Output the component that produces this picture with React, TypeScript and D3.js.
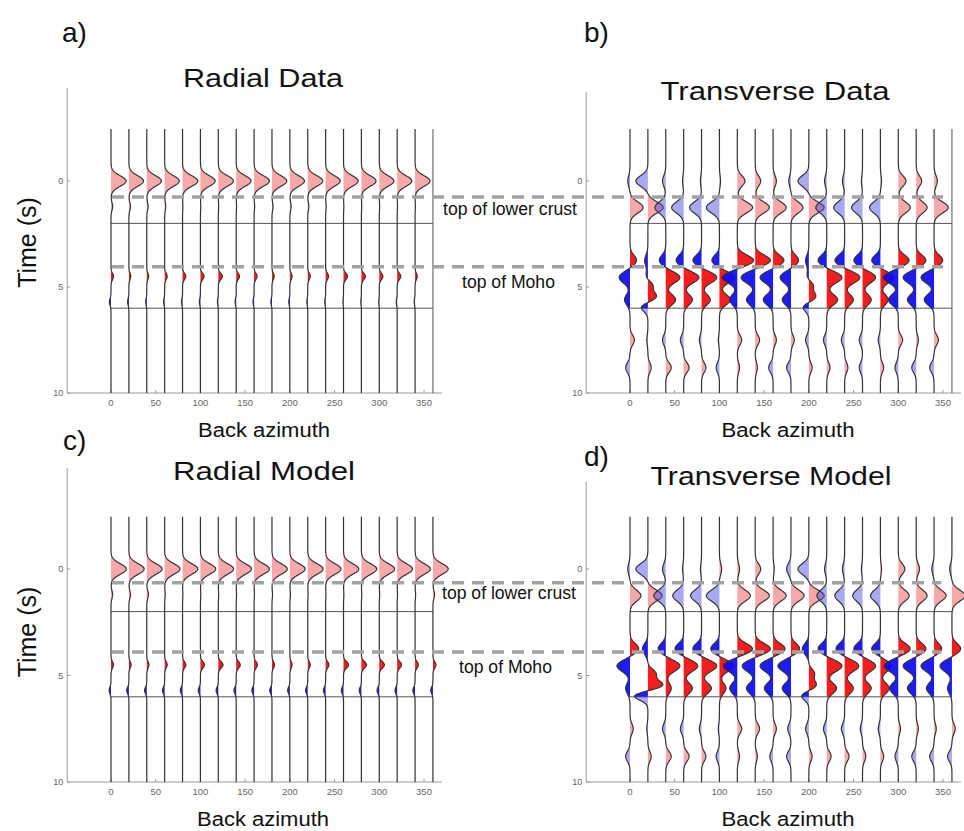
import React from 'react';
import * as d3 from 'd3';

// ---------------- data ----------------
const azimuthsData = [0, 20, 40, 60, 80, 100, 120, 140, 160, 180, 200, 220, 240, 260, 280, 300, 320, 340];
const azimuthsModel = [0, 20, 40, 60, 80, 100, 120, 140, 160, 180, 200, 220, 240, 260, 280, 300, 320, 340, 360];
const xTicks = [0, 50, 100, 150, 200, 250, 300, 350];
const yTicks = [0, 5, 10];

// pulse arrival times (s) and pulse half-widths (s)
const radialTimes = [0, 1.2, 4.5, 5.7];
const radialWidths = [0.25, 0.18, 0.15, 0.15];
const transverseTimes = [0, 1.25, 3.75, 4.55, 4.9, 5.45, 5.6, 5.95, 7.5, 8.8];
const transverseWidths = [0.25, 0.26, 0.25, 0.26, 0.2, 0.22, 0.25, 0.2, 0.23, 0.23];

// Radial data amplitudes (rows = pulse times, cols = traces)
const radialDataAmp = [
  [13.8, 13.4, 13.4, 13.4, 14, 13.5, 13.8, 13.6, 14, 13.6, 13.4, 13.8, 13.4, 13.4, 13.4, 13.4, 13.4, 13.7],
  [1.5, 1.5, 1.2, 1, 0.3, 0.3, 0.3, 0.3, 0.5, 1, 1.2, 1, 0.5, 0.3, 0.3, 0.3, 0.3, 0.3],
  [2.3, 1.7, 1.7, 2.3, 3, 3.3, 3.7, 3, 2.7, 2, 2, 2.3, 2.7, 3.7, 3.7, 3.3, 3.3, 2],
  [-1.5, -1.2, -1, -1, -1, -1, -0.8, -1, -1, -1, -1, -0.8, -0.8, -0.5, -0.5, -0.5, -0.8, -0.8],
];

// Radial model amplitudes
const radialModelAmp = [
  [14, 14, 14, 14, 14, 14, 14, 14, 14, 14, 14, 14, 14, 14, 14, 14, 14, 14, 14],
  [1.5, 1.5, 1.5, 0.5, 0.3, 0.3, 0.3, 0.3, 0.3, 0.5, 0.5, 0.3, 0.3, 0.3, 0.3, 0.3, 0.3, 0.5, 1.5],
  [2.3, 2, 2, 2.3, 3, 3.7, 4.3, 3.7, 3, 2.3, 2, 2.3, 3, 4.7, 4.7, 4.7, 4, 3, 2.7],
  [-1.7, -2, -2, -2, -2, -2, -2, -2, -2, -2, -2, -2, -2, -2, -2, -2, -2, -2, -2],
];

// Transverse data amplitudes
const transverseDataAmp = [
  [-2, -11, -3, -1, -1, 1, 7, 5, 3, -2, -10, -2, -2, -1, 1, 7, 5, 3],
  [12, 14, -10, -11, -11, -12, 14, 13, 12, 11, 14, -10, -10, -10, -10, 11, 10, 13],
  [6, -3, -6, -7, -8, -7, 15, 14, 10, 7, -3, -8, -9, -8, -8, 10, 9, 8],
  [-10, -2, 13, 14, 14, 14, -14, -13, -12, -10, -2, 14, 14, 12, 12, -14, -12, -12],
  [0, 5, 0, 0, 0, 0, 0, 0, 0, 0, 4.5, 0, 0, 0, 0, 0, 0, 0],
  [0, 8, 0, 0, 0, 0, 0, 0, 0, 0, 6.5, 0, 0, 0, 0, 0, 0, 0],
  [-5, 0, 9, 8, 8, 10, -7, -8, -9, -8, 0, 10, 8, 8, 7, -9, -8, -9],
  [0, -6.5, 0, 0, 0, 0, 0, 0, 0, 0, -5.5, 0, 0, 0, 0, 0, 0, 0],
  [4, -1, -3, -3, -2, -1, 4, 4, 3, 3, -3, -3, -3, -3, -2, 4, 2, 4],
  [-4, 3, 5, 5, 4, -3, 2, 2, -4, -4, 3, 3, 3, -3, 3, -3, -4, -4],
];

// Transverse model amplitudes
const transverseModelAmp = [
  [-2, -11, -3, -1, -1, 2, 2, 5, 1, -4, -10, -2, -2, -1, 1, 6, 3, -2, -2],
  [10, 13, -11, -10, -10, -12, 12, 13, 12, 12, 14, -9, -9, -9, -9, 10, 10, 11, 12],
  [8, -5, -7, -8, -8, -8, 14, 14, 11, 8, -6, -8, -8, -8, -8, 11, 9, 7, 8],
  [-12, 0, 13, 13, 14, 13, -13, -12, -12, -12, 0, 14, 13, 12, 10, -13, -12, -12, -11],
  [0, 7, 0, 0, 0, 0, 0, 0, 0, 0, 5, 0, 0, 0, 0, 0, 0, 0, 0],
  [0, 14, 0, 0, 0, 0, 0, 0, 0, 0, 7, 0, 0, 0, 0, 0, 0, 0, 0],
  [-4, 0, 5, 8, 9, 6, -7, -8, -8, -8, 0, 9, 8, 8, 8, -8, -8, -7, -4],
  [0, -13, 0, 0, 0, 0, 0, 0, 0, 0, -7, 0, 0, 0, 0, 0, 0, 0, 0],
  [3, -1, -3, -3, -2, -1, 4, 4, 3, -3, -3, -3, -3, -2, -2, 2, 2, 2, 3],
  [-4, 3, 5, 5, 4, -3, 2, 2, -3, -4, 3, 4, 4, 3, 3, -3, -4, -4, -4],
];

const layerTimes = [2, 6];
const interfaceTop = { crust: 0.75, moho: 4.05 };
const interfaceBottom = { crust: 0.65, moho: 3.9 };

// ---------------- styling ----------------
const FONT = "'Liberation Sans', Arial, Helvetica, sans-serif";
const GAIN = 1.22; // azimuth-degrees per amplitude unit
const T_START = -2.45;
const T_END = 10;

type Panel = {
  az: number[];
  times: number[];
  widths: number[];
  amps: number[][];
  x0: number; // pixel of azimuth 0
  yScale: d3.ScaleLinear<number, number>;
  axisTop: number;
  endLine: boolean;
};

const xScaleFor = (x0: number) =>
  d3.scaleLinear().domain([0, 350]).range([x0, x0 + 313]);

function wave(t: number, p: Panel, j: number) {
  let s = 0;
  for (let i = 0; i < p.times.length; i++) {
    const a = p.amps[i][j];
    if (!a) continue;
    const d = t - p.times[i];
    const sg = p.widths[i];
    s += a * Math.exp(-(d * d) / (2 * sg * sg));
  }
  return s;
}

function samples(t0: number, t1: number, fn: (t: number) => number) {
  const n = Math.max(2, Math.round((t1 - t0) / 0.02));
  const out: [number, number][] = [];
  for (let k = 0; k <= n; k++) {
    const t = t0 + ((t1 - t0) * k) / n;
    out.push([t, fn(t)]);
  }
  return out;
}

const COLORS = {
  redLight: 'rgba(240,70,70,0.47)',
  blueLight: 'rgba(70,70,230,0.47)',
  red: 'rgba(245,10,10,0.92)',
  blue: 'rgba(10,10,240,0.92)',
};

function PanelTraces({ p }: { p: Panel }) {
  const x = xScaleFor(p.x0);
  const y = p.yScale;
  const segs: [number, number, boolean][] = [
    [T_START, layerTimes[0], false],
    [layerTimes[0], layerTimes[1], true],
    [layerTimes[1], T_END, false],
  ];
  const line = d3.line<[number, number]>();
  return (
    <g>
      {p.az.map((az, j) => {
        const fn = (t: number) => wave(t, p, j);
        const all = samples(T_START, T_END, fn);
        const base = x(az);
        const fills: React.ReactNode[] = [];
        segs.forEach(([a, b, strong], si) => {
          const s = samples(a, b, fn);
          const pos = d3
            .area<[number, number]>()
            .y((d) => y(d[0]))
            .x0(base)
            .x1((d) => x(az + GAIN * Math.max(0, d[1])));
          const neg = d3
            .area<[number, number]>()
            .y((d) => y(d[0]))
            .x0(base)
            .x1((d) => x(az + GAIN * Math.min(0, d[1])));
          fills.push(
            <path key={'p' + si} d={pos(s) || ''} fill={strong ? COLORS.red : COLORS.redLight} />,
            <path key={'n' + si} d={neg(s) || ''} fill={strong ? COLORS.blue : COLORS.blueLight} />
          );
        });
        const d = line(all.map(([t, v]) => [x(az + GAIN * v), y(t)] as [number, number]));
        return (
          <g key={az}>
            {fills}
            <path d={d || ''} fill="none" stroke="#333" strokeWidth={1.2} />
          </g>
        );
      })}
      {p.endLine && (
        <line x1={x(360)} x2={x(360)} y1={y(T_START)} y2={y(T_END)} stroke="#555" strokeWidth={1} />
      )}
    </g>
  );
}

function PanelFrame({ p }: { p: Panel }) {
  const x = xScaleFor(p.x0);
  const y = p.yScale;
  const axX = x(-49);
  const axY = y(10);
  return (
    <g fontFamily={FONT}>
      <line x1={axX} x2={axX} y1={p.axisTop} y2={axY} stroke="#9a9a9a" strokeWidth={1} />
      <line x1={axX} x2={x(370)} y1={axY} y2={axY} stroke="#9a9a9a" strokeWidth={1} />
      {yTicks.map((t) => (
        <g key={t}>
          <line x1={axX} x2={axX + 3} y1={y(t)} y2={y(t)} stroke="#9a9a9a" />
          <text x={axX - 4} y={y(t)} dy="0.35em" textAnchor="end" fontSize={9} fill="#666">
            {t}
          </text>
        </g>
      ))}
      {xTicks.map((t) => (
        <g key={t}>
          <line x1={x(t)} x2={x(t)} y1={axY} y2={axY - 3} stroke="#9a9a9a" />
          <text x={x(t)} y={axY + 13} textAnchor="middle" fontSize={9.5} fill="#666">
            {t}
          </text>
        </g>
      ))}
      {layerTimes.map((t) => (
        <line key={t} x1={x(0)} x2={x(360)} y1={y(t)} y2={y(t)} stroke="#555" strokeWidth={1} />
      ))}
    </g>
  );
}

export default function App() {
  const yTop = d3.scaleLinear().domain([0, 10]).range([181, 393]);
  const yBot = d3.scaleLinear().domain([0, 10]).range([569, 782]);
  const left0 = 111;
  const right0 = 630;

  const panels: Panel[] = [
    { az: azimuthsData, times: radialTimes, widths: radialWidths, amps: radialDataAmp, x0: left0, yScale: yTop, axisTop: 88, endLine: true },
    { az: azimuthsData, times: transverseTimes, widths: transverseWidths, amps: transverseDataAmp, x0: right0, yScale: yTop, axisTop: 92, endLine: true },
    { az: azimuthsModel, times: radialTimes, widths: radialWidths, amps: radialModelAmp, x0: left0, yScale: yBot, axisTop: 468, endLine: false },
    { az: azimuthsModel, times: transverseTimes, widths: transverseWidths, amps: transverseModelAmp, x0: right0, yScale: yBot, axisTop: 482, endLine: false },
  ];

  const xl = xScaleFor(left0);
  const xr = xScaleFor(right0);
  const dash = { stroke: '#a3a3a3', strokeWidth: 3.5, strokeDasharray: '12 8' };

  return (
    <svg
      width={964}
      height={831}
      style={{ position: 'absolute', left: 0, top: 0, background: '#fff' }}
      fontFamily={FONT}
    >
      <rect width={964} height={831} fill="#fff" />
      {panels.map((p, i) => (
        <PanelFrame key={'f' + i} p={p} />
      ))}
      {panels.map((p, i) => (
        <PanelTraces key={'t' + i} p={p} />
      ))}

      {/* interface dashed lines */}
      <line x1={xl(0) + 1} x2={xr(350)} y1={yTop(interfaceTop.crust)} y2={yTop(interfaceTop.crust)} {...dash} />
      <line x1={xl(0) + 1} x2={xr(350)} y1={yTop(interfaceTop.moho)} y2={yTop(interfaceTop.moho)} {...dash} />
      <line x1={xl(0) + 1} x2={xr(348)} y1={yBot(interfaceBottom.crust)} y2={yBot(interfaceBottom.crust)} {...dash} />
      <line x1={xl(0) + 1} x2={xr(348)} y1={yBot(interfaceBottom.moho)} y2={yBot(interfaceBottom.moho)} {...dash} />

      <text x={443} y={215} fontSize={17.6} fill="#111">top of lower crust</text>
      <text x={462} y={288} fontSize={17.6} fill="#111">top of Moho</text>
      <text x={442} y={599} fontSize={17.6} fill="#111">top of lower crust</text>
      <text x={459} y={673} fontSize={17.6} fill="#111">top of Moho</text>

      {/* panel letters */}
      <text x={62} y={42} fontSize={28} fill="#111">a)</text>
      <text x={584} y={42} fontSize={28} fill="#111">b)</text>
      <text x={63} y={450} fontSize={28} fill="#111">c)</text>
      <text x={584} y={466} fontSize={28} fill="#111">d)</text>

      {/* titles */}
      <text x={263} y={87} fontSize={26} textAnchor="middle" textLength={160} lengthAdjust="spacingAndGlyphs" fill="#111">Radial Data</text>
      <text x={775} y={100} fontSize={26} textAnchor="middle" textLength={229} lengthAdjust="spacingAndGlyphs" fill="#111">Transverse Data</text>
      <text x={264} y={480} fontSize={26} textAnchor="middle" textLength={182} lengthAdjust="spacingAndGlyphs" fill="#111">Radial Model</text>
      <text x={771} y={485} fontSize={26} textAnchor="middle" textLength={241} lengthAdjust="spacingAndGlyphs" fill="#111">Transverse Model</text>

      {/* axis labels */}
      <text x={264} y={437} fontSize={19.5} textAnchor="middle" textLength={132} lengthAdjust="spacingAndGlyphs" fill="#111">Back azimuth</text>
      <text x={788} y={437} fontSize={19.5} textAnchor="middle" textLength={133} lengthAdjust="spacingAndGlyphs" fill="#111">Back azimuth</text>
      <text x={263} y={826} fontSize={19.5} textAnchor="middle" textLength={132} lengthAdjust="spacingAndGlyphs" fill="#111">Back azimuth</text>
      <text x={788} y={826} fontSize={19.5} textAnchor="middle" textLength={133} lengthAdjust="spacingAndGlyphs" fill="#111">Back azimuth</text>
      <text transform="translate(36,242.5) rotate(-90)" fontSize={25} textAnchor="middle" fill="#111">Time (s)</text>
      <text transform="translate(36,632) rotate(-90)" fontSize={25} textAnchor="middle" fill="#111">Time (s)</text>
    </svg>
  );
}
